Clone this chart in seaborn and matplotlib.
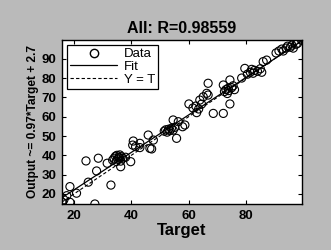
import numpy as np
import matplotlib
matplotlib.use('Agg')
import matplotlib.pyplot as plt
import seaborn as sns
from matplotlib.lines import Line2D
from matplotlib import font_manager

# targets / outputs
target = [16.0, 16.5, 17.5, 18.6, 18.6, 20.9,
          24.2, 28.5, 27.9, 25.0, 27.3, 32.9, 31.6,
          33.5, 34.0, 34.5, 35.0, 35.3, 35.6, 36.0, 36.3, 34.8, 35.8, 36.5, 37.0, 36.3, 39.8, 38.0,
          40.7, 40.5, 43.0, 45.9, 47.1, 43.0, 47.7, 41.5, 46.5,
          51.5, 52.0, 52.5, 53.0, 53.5, 54.0, 54.6, 55.2, 55.8, 57.9, 54.6, 56.4, 58.7,
          60.1, 62.8, 63.9, 65.1, 66.8, 66.8, 61.5, 62.5, 63.5, 64.5, 66.3, 68.6, 72.1,
          72.1, 73.8, 74.4, 74.4, 72.5, 73.0, 74.0, 75.0, 75.5, 73.5, 76.0,
          79.6, 80.5, 81.5, 82.0, 82.5, 83.0, 84.0, 85.0, 85.5, 87.2, 86.0, 78.5,
          90.5, 91.5, 92.5, 93.0, 94.0, 94.5, 95.5, 96.0, 96.5, 97.5, 98.0, 99.4]
output = [15.5, 17.0, 19.1, 15.7, 23.8, 20.4,
          37.1, 38.5, 31.9, 26.1, 14.8, 24.6, 35.9,
          37.5, 38.5, 39.5, 40.0, 38.0, 39.0, 40.2, 37.0, 36.8, 38.6, 39.3, 38.5, 34.1, 36.7, 39.0,
          47.4, 45.3, 46.2, 50.5, 43.3, 44.0, 47.9, 44.5, 43.6,
          52.5, 53.2, 52.0, 53.5, 52.8, 54.0, 53.0, 54.5, 48.8, 54.8, 58.3, 57.4, 55.7,
          66.6, 62.1, 68.6, 70.3, 77.3, 71.2, 64.5, 65.5, 64.0, 66.5, 72.1, 61.7, 61.7,
          76.4, 74.7, 79.0, 66.6, 73.0, 74.0, 73.5, 75.0, 76.0, 72.0, 74.0,
          85.0, 82.0, 83.0, 84.5, 82.5, 84.0, 83.5, 84.8, 83.0, 89.3, 88.5, 80.0,
          93.0, 94.0, 95.0, 94.0, 95.5, 96.5, 96.0, 97.0, 95.5, 97.5, 98.0, 99.6]

fit_slope = 0.97
fit_intercept = 2.7
r_value = 0.98559
x_limits = [15.8, 99.5]
y_limits = [14.8, 99.7]
x_ticks = [20, 40, 60, 80]
y_ticks = [20, 30, 40, 50, 60, 70, 80, 90]

sns.set_style('ticks')
plt.rcParams['font.family'] = ['Liberation Sans', 'DejaVu Sans']
plt.rcParams.update({'text.color': 'black', 'axes.labelcolor': 'black',
                     'xtick.color': 'black', 'ytick.color': 'black'})

# narrow face for the y label if it is there
names = {f.name for f in font_manager.fontManager.ttflist}
if 'Liberation Sans Narrow' in names:
    ylab_family, ylab_size = ['Liberation Sans Narrow', 'DejaVu Sans'], 10.5
else:
    ylab_family, ylab_size = ['Liberation Sans', 'DejaVu Sans'], 8.6

fig = plt.figure(figsize=(3.31, 2.5), dpi=100, facecolor='#bababa')
ax = fig.add_axes([0.187, 0.184, 0.725, 0.656])
ax.set_facecolor('white')

# Y = T reference and fit line
ref_x = np.array(x_limits)
sns.lineplot(x=ref_x, y=ref_x, ax=ax, color='black', linestyle=(0, (3, 2)), linewidth=0.8)
sns.lineplot(x=ref_x, y=fit_slope * ref_x + fit_intercept, ax=ax, color='black', linewidth=0.9)
sns.scatterplot(x=target, y=output, ax=ax, marker='o', s=34, facecolors='none',
                edgecolor='black', linewidth=0.8, zorder=3)

ax.set_xlim(x_limits)
ax.set_ylim(y_limits)
ax.set_xticks(x_ticks)
ax.set_yticks(y_ticks)
ax.tick_params(direction='in', length=3, width=0.8, top=True, right=True,
               labelsize=9.5, pad=4)
for lbl in ax.get_xticklabels() + ax.get_yticklabels():
    lbl.set_fontweight('bold')
for s in ax.spines.values():
    s.set_color('black')
    s.set_linewidth(1.0)

ax.set_title('All: R=%.5f' % r_value, fontsize=11.5, fontweight='bold', pad=5)
ax.set_xlabel('Target', fontsize=12, fontweight='bold', labelpad=1)
ax.set_ylabel('Output ~= %.2g*Target + %.2g' % (fit_slope, fit_intercept),
              fontsize=ylab_size, fontweight='bold', family=ylab_family, labelpad=2)

handles = [Line2D([], [], marker='o', linestyle='none', markerfacecolor='none',
                  markeredgecolor='black', markersize=6),
           Line2D([], [], color='black', linewidth=0.9),
           Line2D([], [], color='black', linestyle=(0, (3, 2)), linewidth=0.8)]
leg = ax.legend(handles, ['Data', 'Fit', 'Y = T'], loc='upper left', fontsize=9.5,
                frameon=True, fancybox=False, framealpha=1, edgecolor='black',
                handlelength=3.6, handletextpad=0.5, borderaxespad=0.35,
                labelspacing=0.05, borderpad=0.25)
leg.get_frame().set_linewidth(0.9)

fig.savefig('out.png', dpi=100, facecolor=fig.get_facecolor())
